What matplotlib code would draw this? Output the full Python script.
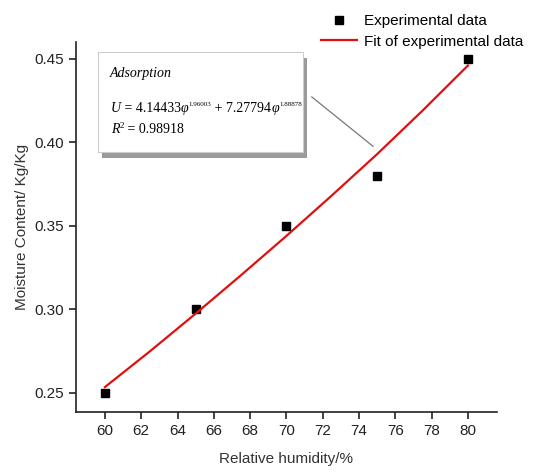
import matplotlib.pyplot as plt
from matplotlib.patches import Rectangle
import numpy as np

plt.rcParams['font.family'] = ['Liberation Sans', 'DejaVu Sans']

humidity = [60, 65, 70, 75, 80]
moisture = [0.25, 0.30, 0.35, 0.38, 0.45]

fit_x = [60, 62.5, 65, 67.5, 70, 72.5, 75, 77.5, 80]
fit_y = [0.2535, 0.2751, 0.2975, 0.3205, 0.3440, 0.3682, 0.3930, 0.4190, 0.4460]

xticks = np.arange(60, 81, 2)
yticks = [0.25, 0.30, 0.35, 0.40, 0.45]

W, H = 542, 473
fig = plt.figure(figsize=(W / 100, H / 100), dpi=100)
ax = fig.add_axes([0.140, 0.129, 0.777, 0.782])

ax.plot(humidity, moisture, 's', color='black', markersize=6, label='Experimental data')
ax.plot(fit_x, fit_y, '-', color='#e01010', linewidth=1.6, label='Fit of experimental data')

ax.set_xlim(58.4, 81.6)
ax.set_ylim(0.2386, 0.460)
ax.set_xticks(xticks)
ax.set_yticks(yticks)
ax.set_yticklabels([f"{v:.2f}" for v in yticks])
ax.tick_params(direction='out', length=5, width=1.2, labelsize=11, colors='#222222')
ax.spines['top'].set_visible(False)
ax.spines['right'].set_visible(False)
for s in ['left', 'bottom']:
    ax.spines[s].set_linewidth(1.2)
    ax.spines[s].set_color('#222222')

ax.set_xlabel('Relative humidity/%', fontsize=11, color='#333333', labelpad=10)
ax.set_ylabel('Moisture Content/ Kg/Kg', fontsize=11, color='#333333', labelpad=4)

fig.legend(loc='upper left', bbox_to_anchor=(0.575, 0.99), frameon=False, fontsize=11,
           handlelength=2.4, handletextpad=0.4, borderaxespad=0.2, labelspacing=0.45)

# equation box with drop shadow
bx, by, bw, bh = 0.181, 0.679, 0.378, 0.211
fig.patches.append(Rectangle((bx + 0.008, by - 0.012), bw, bh, transform=fig.transFigure,
                             facecolor='#9a9a9a', edgecolor='none', zorder=3))
fig.patches.append(Rectangle((bx, by), bw, bh, transform=fig.transFigure,
                             facecolor='white', edgecolor='#cccccc', linewidth=0.8, zorder=4))

renderer = fig.canvas.get_renderer()


def text_run(x_px, base_px, pieces):
    # lay pieces side by side; each piece is (text, size, italic, raise in px)
    cur = x_px
    for s, size, italic, rise in pieces:
        t = fig.text(cur / W, 1 - (base_px - rise) / H, s, fontsize=size,
                     family='Liberation Serif', style='italic' if italic else 'normal',
                     va='baseline', ha='left', zorder=5)
        cur = t.get_window_extent(renderer).x1


text_run(110, 77, [('Adsorption', 10, True, 0)])
text_run(111, 112, [('U', 10, True, 0), (' = 4.14433', 10, False, 0),
                    ('φ', 10, True, 0), ('1.96003', 5, False, 6),
                    (' + 7.27794', 10, False, 0), ('φ', 10, True, 0),
                    ('1.88878', 5, False, 6)])
text_run(111, 133, [('R', 10, True, 0), ('2', 6.5, False, 5),
                    (' = 0.98918', 10, False, 0)])

ax.annotate('', xy=(74.9, 0.3965), xycoords='data',
            xytext=(bx + bw + 0.012, 0.799), textcoords='figure fraction',
            arrowprops=dict(arrowstyle='-', color='#777777', linewidth=0.9))

fig.savefig('out.png', dpi=100)
